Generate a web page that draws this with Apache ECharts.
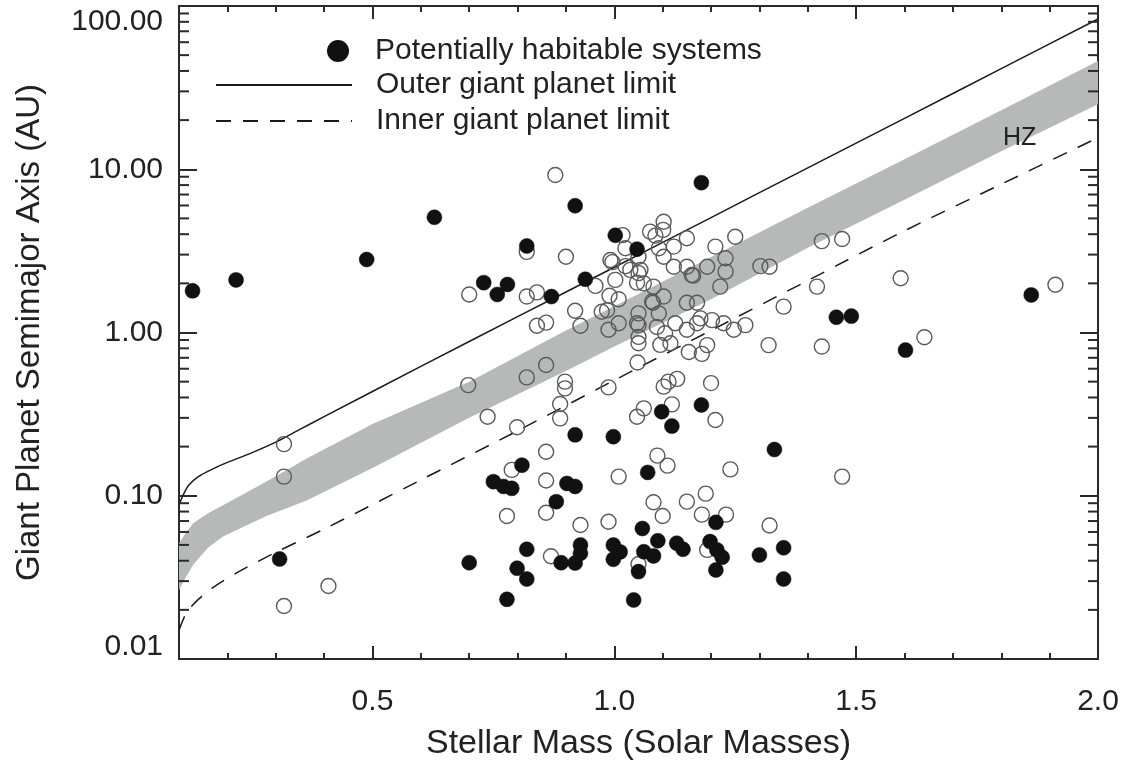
<!DOCTYPE html>
<html><head><meta charset="utf-8">
<script src="https://cdn.jsdelivr.net/npm/echarts@6/dist/echarts.min.js"></script>
<style>html,body{margin:0;padding:0;background:#fff}#c{width:1127px;height:772px}</style>
</head><body><div id="c"></div>
<script>
// ---------- data ----------
const X_MIN = 0.1, X_MAX = 2.0, Y_MIN = 0.01, Y_MAX = 100;
const xMajorTicks = [0.5, 1.0, 1.5, 2.0];
const xMinorTicks = [0.2,0.3,0.4,0.6,0.7,0.8,0.9,1.1,1.2,1.3,1.4,1.6,1.7,1.8,1.9];
const yMinorTicks = [0.02,0.03,0.04,0.05,0.06,0.07,0.08,0.09,0.2,0.3,0.4,0.5,0.6,0.7,0.8,0.9,2,3,4,5,6,7,8,9,20,30,40,50,60,70,80,90];

const outerLimit = [[0.10,0.088],[0.11,0.103],[0.12,0.116],[0.14,0.131],[0.17,0.146],[0.20,0.160],[0.25,0.183],[0.30,0.213],[0.35,0.255],[0.40,0.305],[0.60,0.62],[0.80,1.25],[1.00,2.51],[1.20,5.06],[1.40,10.2],[1.60,20.5],[1.80,41.3],[2.00,83.2]];
const innerLimit = [[0.10,0.0150],[0.11,0.0178],[0.12,0.0200],[0.14,0.0232],[0.17,0.0274],[0.22,0.0338],[0.30,0.0450],[0.40,0.0625],[0.60,0.125],[0.80,0.25],[1.00,0.51],[1.20,1.03],[1.40,2.08],[1.60,4.2],[1.80,8.1],[2.00,15.6]];

const hzX    = [0.10,0.115,0.13,0.16,0.19,0.23,0.28,0.365,0.5,0.7,0.9,1.0,1.2,1.4,1.6,1.8,2.0];
const hzLow  = [0.0265,0.032,0.038,0.048,0.056,0.064,0.075,0.094,0.148,0.30,0.58,0.82,1.6,3.3,6.5,12.9,25];
const hzHigh = [0.051,0.060,0.068,0.078,0.087,0.101,0.122,0.170,0.275,0.50,1.03,1.45,2.9,5.8,11.5,23,46];

const habitable = [
[0.128,1.80],[0.218,2.10],[0.488,2.80],[0.628,5.08],[0.919,5.98],[0.819,3.39],[0.730,2.02],[0.758,1.71],[0.779,1.97],[0.870,1.66],[0.940,2.12],[1.002,3.94],[1.047,3.24],[1.180,8.28],[1.459,1.24],[1.490,1.26],[1.862,1.70],[1.602,0.78],
[0.809,0.154],[0.919,0.236],[0.998,0.230],[0.750,0.122],[0.771,0.114],[0.788,0.111],[0.902,0.119],[0.919,0.114],[0.880,0.092],[1.098,0.327],[1.119,0.267],[1.180,0.36],[1.331,0.192],[1.069,0.139],
[0.308,0.041],[0.700,0.0389],[0.778,0.0232],[0.799,0.036],[0.819,0.0309],[0.819,0.047],[0.890,0.0389],[0.919,0.0387],[0.930,0.0499],[0.930,0.0444],[0.998,0.0499],[0.998,0.0408],[1.012,0.0453],[1.058,0.063],[1.090,0.053],[1.061,0.0454],[1.081,0.0428],[1.050,0.0343],[1.040,0.023],[1.129,0.0512],[1.142,0.047],[1.210,0.0687],[1.198,0.0524],[1.212,0.0466],[1.223,0.042],[1.210,0.0351],[1.300,0.0434],[1.350,0.048],[1.350,0.0309]
];

const otherSystems = [
[0.878,9.22],[0.819,3.12],[1.017,3.95],[1.023,3.28],[0.900,2.91],[0.992,2.78],[0.996,2.70],[1.023,2.55],[1.002,2.10],[1.050,2.31],[0.961,1.93],[0.700,1.71],[0.819,1.66],[0.840,1.76],[0.990,1.68],[1.009,1.60],[0.919,1.36],[0.840,1.10],[0.859,1.15],[0.930,1.10],[0.974,1.34],[1.009,1.14],[0.988,1.04],[1.047,1.14],[1.047,2.02],
[1.102,4.77],[1.101,4.25],[1.074,4.15],[1.085,3.92],[1.150,3.78],[1.250,3.86],[1.092,3.28],[1.123,3.36],[1.209,3.36],[1.102,2.91],[1.230,2.85],[1.230,2.36],[1.123,2.53],[1.150,2.53],[1.160,2.25],[1.163,2.23],[1.219,1.91],[1.302,2.55],[1.321,2.53],[1.429,3.63],[1.471,3.74],[1.419,1.91],[1.350,1.44],[1.319,0.837],[1.429,0.82],[0.985,1.37],[1.050,2.91],[1.054,2.42],[1.061,2.00],[1.033,2.42],[1.081,1.91],[1.078,1.55],[1.050,1.31],[1.050,1.11],[1.050,0.94],[1.050,0.86],[1.080,1.52],[1.102,1.66],[1.092,1.31],[1.088,1.08],[1.105,0.99],[1.116,0.86],[1.126,1.14],[1.150,1.04],[1.150,1.52],[1.171,1.52],[1.192,2.53],[1.202,1.19],[1.178,1.22],[1.171,1.14],[1.226,1.14],[1.247,1.04],[1.271,1.11],[1.192,0.837],[1.154,0.76],[1.181,0.74],
[0.317,0.207],[0.317,0.131],[0.698,0.476],[0.738,0.305],[0.819,0.531],[0.859,0.632],[0.799,0.263],[0.898,0.50],[0.898,0.455],[0.888,0.365],[0.888,0.298],[0.988,0.461],[1.048,0.655],[1.047,0.305],[0.788,0.144],[0.859,0.186],[0.859,0.124],[1.009,0.131],[1.095,0.84],[1.102,0.466],[1.112,0.50],[1.130,0.52],[1.200,0.49],[1.061,0.343],[1.119,0.363],[1.209,0.291],[1.089,0.176],[1.110,0.153],[1.240,0.145],[1.471,0.131],[1.081,0.0912],[1.150,0.092],[1.189,0.103],
[0.778,0.0752],[0.859,0.0787],[0.930,0.0662],[0.988,0.0693],[0.869,0.0426],[0.317,0.0211],[0.409,0.028],[1.100,0.0752],[1.181,0.0766],[1.231,0.0766],[1.321,0.0657],[1.050,0.0382],[1.192,0.0466],
[1.592,2.15],[1.912,1.96],[1.641,0.935]
];

const legendNames = ['Potentially habitable systems','Outer giant planet limit','Inner giant planet limit'];
const xTitle = 'Stellar Mass (Solar Masses)';
const yTitle = 'Giant Planet Semimajor Axis (AU)';
const hzLabel = 'HZ';

// ---------- chart ----------
const FONT = "'Liberation Sans', Arial, Helvetica, sans-serif";
const AX = '#2a2a2a';
const TXT = '#222';
const TICK_FS = 30, LEG_FS = 30;
const chart = echarts.init(document.getElementById('c'), null, {renderer:'canvas'});

function xAxisDef(pos, ticks, len, showLine, showLabel, extra) {
  return Object.assign({
    type:'value', min:X_MIN, max:X_MAX, position:pos,
    axisLine:{show:showLine, onZero:false, lineStyle:{color:AX, width:2}},
    axisTick:{show:true, inside:true, length:len, customValues:ticks, lineStyle:{color:AX, width:2}},
    axisLabel:{show:showLabel, customValues:ticks, formatter:v=>Number(v).toFixed(1),
      fontSize:TICK_FS, fontFamily:FONT, color:TXT, margin:28},
    splitLine:{show:false}
  }, extra || {});
}

const legendText = {fontSize:LEG_FS, fontFamily:FONT, color:TXT};
const option = {
  animation:false,
  backgroundColor:'#fff',
  grid:{left:179, right:29, top:6, bottom:113, containLabel:false},
  legend:[
    {data:[legendNames[0]], left:327, top:36, padding:0, itemWidth:22, itemHeight:22, orient:'vertical',
     itemStyle:{color:'#111', borderWidth:0, opacity:1},
     textStyle:Object.assign({padding:[0,0,0,21]}, legendText), selectedMode:false},
    {data:[legendNames[1]], left:215, top:70, padding:0, itemWidth:136, itemHeight:2, orient:'vertical',
     textStyle:Object.assign({padding:[0,0,0,19]}, legendText), selectedMode:false},
    {data:[legendNames[2]], left:215, top:106, padding:0, itemWidth:136, itemHeight:2, orient:'vertical',
     textStyle:Object.assign({padding:[0,0,0,19]}, legendText), selectedMode:false}
  ],
  xAxis:[
    xAxisDef('bottom', xMajorTicks, 13, true, true, {
      name:xTitle, nameLocation:'middle', nameGap:68,
      nameTextStyle:{fontSize:34, fontFamily:FONT, color:TXT}}),
    xAxisDef('bottom', xMinorTicks, 6, false, false),
    xAxisDef('top', xMajorTicks, 13, true, false),
    xAxisDef('top', xMinorTicks, 6, false, false)
  ],
  yAxis:[
    {type:'log', logBase:10, min:Y_MIN, max:Y_MAX, position:'left',
     axisLine:{show:true, onZero:false, lineStyle:{color:AX, width:2}},
     axisTick:{show:true, inside:true, length:18, lineStyle:{color:AX, width:2}},
     axisLabel:{fontSize:TICK_FS, fontFamily:FONT, color:TXT, margin:16,
       formatter:v=>{
         const s = Number(v).toFixed(2);
         if (v > 50) return '{t|' + s + '}';
         if (v < 0.02) return '{b|' + s + '}';
         return s;
       },
       rich:{t:{fontSize:TICK_FS, fontFamily:FONT, color:TXT, padding:[32,0,0,0]},
             b:{fontSize:TICK_FS, fontFamily:FONT, color:TXT, padding:[0,0,24,0]}}},
     splitLine:{show:false},
     name:yTitle, nameLocation:'middle', nameGap:133, nameRotate:90,
     nameTextStyle:{fontSize:33, fontFamily:FONT, color:TXT}},
    {type:'log', logBase:10, min:Y_MIN, max:Y_MAX, position:'right',
     axisLine:{show:true, onZero:false, lineStyle:{color:AX, width:2}},
     axisTick:{show:true, inside:true, length:18, lineStyle:{color:AX, width:2}},
     axisLabel:{show:false}, splitLine:{show:false}}
  ],
  graphic:[
    {type:'text', left:1003, top:126, z:100, style:{text:hzLabel, fontSize:25, fontFamily:FONT, fill:TXT}}
  ],
  series:[
    { // HZ band
      type:'custom', name:'HZ', silent:true, z:1,
      data:[[X_MIN, Y_MIN]],
      renderItem:(params, api)=>{
        const pts = [];
        for (let i=0;i<hzX.length;i++) pts.push(api.coord([hzX[i], hzHigh[i]]));
        for (let i=hzX.length-1;i>=0;i--) pts.push(api.coord([hzX[i], hzLow[i]]));
        return {type:'polygon', shape:{points:pts}, style:{fill:'#b7b9b9', stroke:null}};
      }
    },
    { // minor log ticks on left and right
      type:'custom', name:'yMinor', silent:true, z:5,
      data:yMinorTicks.map(v=>[X_MIN, v]),
      renderItem:(params, api)=>{
        const v = api.value(1);
        const l = api.coord([X_MIN, v]);
        const r = api.coord([X_MAX, v]);
        return {type:'group', children:[
          {type:'line', shape:{x1:l[0], y1:l[1], x2:l[0]+10, y2:l[1]}, style:{stroke:AX, lineWidth:2}},
          {type:'line', shape:{x1:r[0]-10, y1:r[1], x2:r[0], y2:r[1]}, style:{stroke:AX, lineWidth:2}}
        ]};
      }
    },
    {type:'line', name:legendNames[1], data:outerLimit, symbol:'none', smooth:0.3, z:3,
     lineStyle:{color:'#1a1a1a', width:1.5}, itemStyle:{color:'#1a1a1a'}},
    {type:'line', name:legendNames[2], data:innerLimit, symbol:'none', smooth:0.3, z:3,
     lineStyle:{color:'#1a1a1a', width:1.5, type:[15,12]}, itemStyle:{color:'#1a1a1a'}},
    {type:'scatter', name:'Other systems', data:otherSystems, symbol:'circle', symbolSize:15, z:4,
     itemStyle:{color:'rgba(0,0,0,0)', borderColor:'#5a5a5a', borderWidth:1.4, opacity:1}},
    {type:'scatter', name:legendNames[0], data:habitable, symbol:'circle', symbolSize:15, z:6,
     itemStyle:{color:'#111', borderColor:'#111', borderWidth:0.5, opacity:1}}
  ]
};
chart.setOption(option);
</script>
</body></html>
